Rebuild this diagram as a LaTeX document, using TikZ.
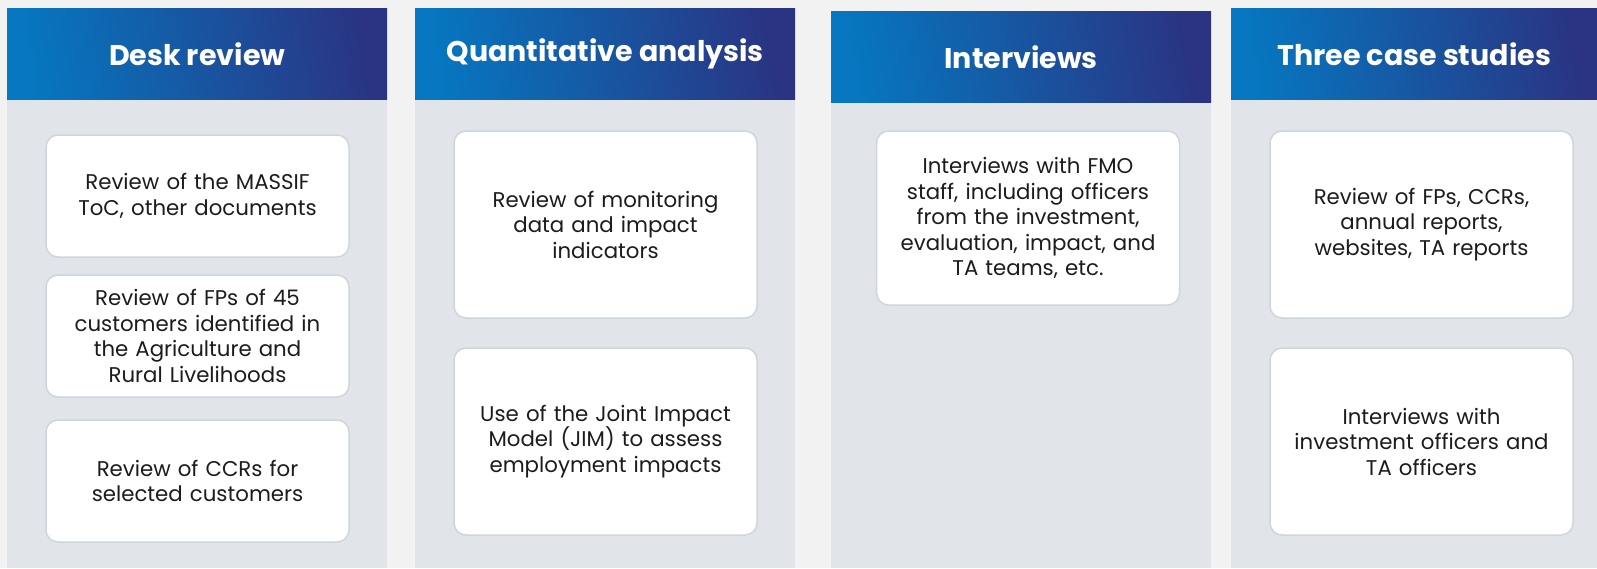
\documentclass[tikz,border=0pt]{standalone}
\usepackage{fontspec}
\setmainfont{Poppins}
\definecolor{pagebg}{HTML}{F2F2F2}
\definecolor{colbody}{HTML}{E1E5E9}
\definecolor{hdA}{HTML}{0677C0}
\definecolor{hdM}{HTML}{1866AE}
\definecolor{hdB}{HTML}{2A3482}
\definecolor{cardline}{HTML}{CDD5DD}
\definecolor{cardtext}{HTML}{1C1C1C}
\begin{document}
\begin{tikzpicture}[x=1pt,y=-1pt,
  column/.style={fill=colbody, draw=none, anchor=north west, inner sep=0,
    minimum width=380, text width=380},
  header/.style={anchor=north west, inner sep=0, minimum width=380, minimum height=91,
    left color=hdA, middle color=hdM, right color=hdB, shading angle=100,
    text=white, font=\fontsize{28.5}{33}\selectfont\bfseries, align=center},
  card/.style={fill=white, draw=cardline, line width=1.5pt, rounded corners=12pt,
    inner sep=0, minimum width=303, text width=296, align=center, text=cardtext,
    font=\fontsize{21.3}{25.5}\selectfont}
]
\useasboundingbox (0,0) rectangle (1597,568);
\fill[pagebg] (0,0) rectangle (1597,568);

% column bodies
\node[column, minimum height=469] (c1) at (7,99) {};
\node[column, minimum height=469] (c2) at (415,99) {};
\node[column, minimum height=466] (c3) at (831,102) {};
\node[column, minimum height=469, minimum width=366, text width=366] (c4) at (1231,99) {};

% column headers
\node[header] (h1) at (7,8) {Desk review};
\node[header] (h2) at (415,8) {Quantitative analysis};
\node[header] (h3) at (831,11) {Interviews};
\node[header, minimum width=366] (h4) at (1231,8) {Three case studies};

% desk review
\node[card, minimum height=122] (d1) at (197.5,196) {Review of the MASSIF\\ToC, other documents};
\node[card, minimum height=122] (d2) at (197.5,336) {Review of FPs of 45\\customers identified in\\the Agriculture and\\Rural Livelihoods};
\node[card, minimum height=122] (d3) at (197.5,481) {Review of CCRs for\\selected customers};

% quantitative analysis
\node[card, minimum height=187] (q1) at (605.5,224.5) {Review of monitoring\\data and impact\\indicators};
\node[card, minimum height=187] (q2) at (605.5,441.5) {Use of the Joint Impact\\Model (JIM) to assess\\employment impacts};

% interviews
\node[card, minimum height=174] (i1) at (1028,218) {Interviews with FMO\\staff, including officers\\from the investment,\\evaluation, impact, and\\TA teams, etc.};

% case studies
\node[card, minimum height=187] (s1) at (1421.5,224.5) {Review of FPs, CCRs,\\annual reports,\\websites, TA reports};
\node[card, minimum height=187] (s2) at (1421.5,441.5) {Interviews with\\investment officers and\\TA officers};
\end{tikzpicture}
\end{document}
